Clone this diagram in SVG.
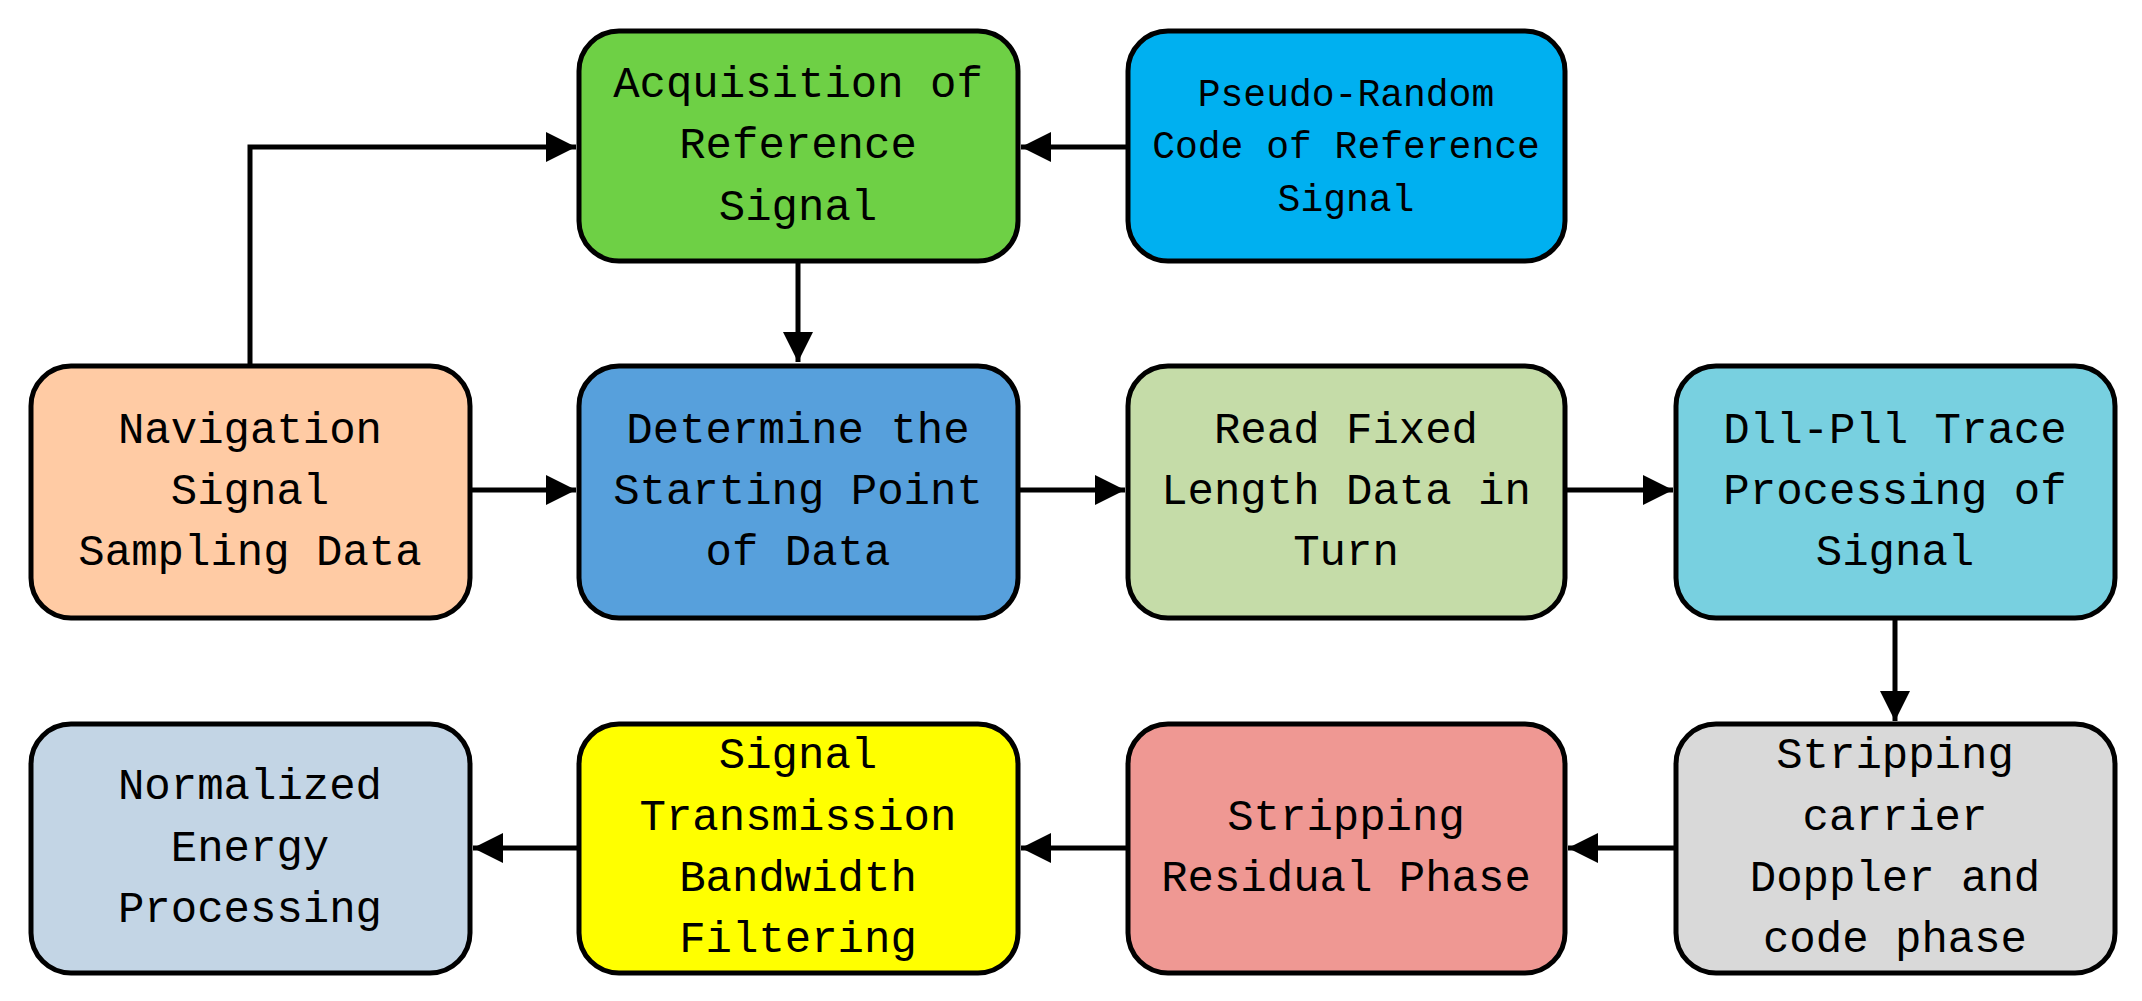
<svg xmlns="http://www.w3.org/2000/svg" width="2142" height="1001" viewBox="0 0 2142 1001">
<style>
.b{stroke:#000;stroke-width:5}
.t{font-family:"Liberation Mono",monospace;font-size:44px;text-anchor:middle;fill:#000}
.s{font-size:38px}
.c{stroke:#000;stroke-width:5;fill:none}
</style>
<defs><marker id="a" markerWidth="6" markerHeight="6" refX="6" refY="3" orient="auto" markerUnits="strokeWidth"><path d="M0,0L6,3L0,6z" fill="#000"/></marker></defs>
<rect width="2142" height="1001" fill="#fff"/>
<g id="connectors">
<path class="c" d="M250,365V147H576" marker-end="url(#a)"/>
<path class="c" d="M1128,147H1021" marker-end="url(#a)"/>
<path class="c" d="M798,261V362" marker-end="url(#a)"/>
<path class="c" d="M470,490H576" marker-end="url(#a)"/>
<path class="c" d="M1018,490H1125" marker-end="url(#a)"/>
<path class="c" d="M1565,490H1673" marker-end="url(#a)"/>
<path class="c" d="M1895,618V721" marker-end="url(#a)"/>
<path class="c" d="M1676,848H1568" marker-end="url(#a)"/>
<path class="c" d="M1128,848H1021" marker-end="url(#a)"/>
<path class="c" d="M579,848H473" marker-end="url(#a)"/>
</g>
<g id="acq"><rect class="b" x="579" y="31" width="439" height="230" rx="40" fill="#6ED045"/>
<text class="t" x="798" y="97">Acquisition of</text><text class="t" x="798" y="158">Reference</text><text class="t" x="798" y="220">Signal</text></g>
<g id="pseudo"><rect class="b" x="1128" y="31" width="437" height="230" rx="40" fill="#00B0F0"/>
<text class="t s" x="1346" y="106">Pseudo-Random</text><text class="t s" x="1346" y="158">Code of Reference</text><text class="t s" x="1346" y="211">Signal</text></g>
<g id="nav"><rect class="b" x="31" y="366" width="439" height="252" rx="40" fill="#FFCBA4"/>
<text class="t" x="250" y="443">Navigation</text><text class="t" x="250" y="504">Signal</text><text class="t" x="250" y="565">Sampling Data</text></g>
<g id="det"><rect class="b" x="579" y="366" width="439" height="252" rx="40" fill="#57A0DC"/>
<text class="t" x="798" y="443">Determine the</text><text class="t" x="798" y="504">Starting Point</text><text class="t" x="798" y="565">of Data</text></g>
<g id="read"><rect class="b" x="1128" y="366" width="437" height="252" rx="40" fill="#C5DCA8"/>
<text class="t" x="1346" y="443">Read Fixed</text><text class="t" x="1346" y="504">Length Data in</text><text class="t" x="1346" y="565">Turn</text></g>
<g id="dll"><rect class="b" x="1676" y="366" width="439" height="252" rx="40" fill="#78D0E0"/>
<text class="t" x="1895" y="443">Dll-Pll Trace</text><text class="t" x="1895" y="504">Processing of</text><text class="t" x="1895" y="565">Signal</text></g>
<g id="norm"><rect class="b" x="31" y="724" width="439" height="249" rx="40" fill="#C3D5E5"/>
<text class="t" x="250" y="799">Normalized</text><text class="t" x="250" y="861">Energy</text><text class="t" x="250" y="922">Processing</text></g>
<g id="filt"><rect class="b" x="579" y="724" width="439" height="249" rx="40" fill="#FFFF00"/>
<text class="t" x="798" y="768">Signal</text><text class="t" x="798" y="830">Transmission</text><text class="t" x="798" y="891">Bandwidth</text><text class="t" x="798" y="952">Filtering</text></g>
<g id="resid"><rect class="b" x="1128" y="724" width="437" height="249" rx="40" fill="#EF9893"/>
<text class="t" x="1346" y="830">Stripping</text><text class="t" x="1346" y="891">Residual Phase</text></g>
<g id="strip"><rect class="b" x="1676" y="724" width="439" height="249" rx="40" fill="#D9D9D9"/>
<text class="t" x="1895" y="768">Stripping</text><text class="t" x="1895" y="830">carrier</text><text class="t" x="1895" y="891">Doppler and</text><text class="t" x="1895" y="952">code phase</text></g>
</svg>
